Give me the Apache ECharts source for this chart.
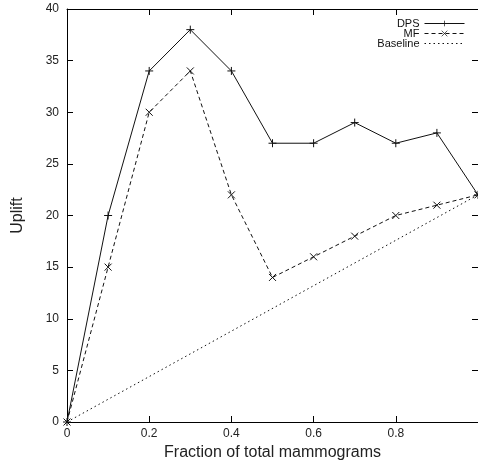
<!DOCTYPE html>
<html>
<head>
<meta charset="utf-8">
<script src="https://cdn.jsdelivr.net/npm/echarts@6/dist/echarts.min.js"></script>
<style>
  html, body { margin: 0; padding: 0; background: #fff; }
  #chart { width: 478px; height: 468px; }
</style>
</head>
<body>
<div id="chart"></div>
<script>
// data
var fractions = [0, 0.1, 0.2, 0.3, 0.4, 0.5, 0.6, 0.7, 0.8, 0.9, 1.0];
var dps = [0, 20, 34, 38, 34, 27, 27, 29, 27, 28, 22];
var mf = [0, 15, 30, 34, 22, 14, 16, 18, 20, 21, 22];
var baselineX = [0, 1.0];
var baselineY = [0, 22];

function pairs(xs, ys) {
  return xs.map(function (x, i) { return [x, ys[i]]; });
}

var plusPath = 'path://M0,5L10,5M5,0L5,10';
var crossPath = 'path://M0,0L10,10M10,0L0,10';
var font = 'Liberation Sans, Arial, Helvetica, sans-serif';
var tick = { show: true, inside: true, length: 6, lineStyle: { color: '#000', width: 1 } };
var line = { show: true, onZero: false, lineStyle: { color: '#000', width: 1 } };

var chart = echarts.init(document.getElementById('chart'));
chart.setOption({
  animation: false,
  backgroundColor: '#fff',
  grid: { left: 67, right: 0, top: 9, bottom: 46 },
  legend: {
    orient: 'vertical',
    right: 8,
    top: 13,
    align: 'right',
    itemWidth: 40,
    itemHeight: 7,
    itemGap: -1,
    textStyle: { fontFamily: font, fontSize: 11, color: '#111' },
    data: [
      { name: 'DPS', lineStyle: { width: 1 }, itemStyle: { borderWidth: 0.7 } },
      { name: 'MF', lineStyle: { width: 1 }, itemStyle: { borderWidth: 0.7 } },
      { name: 'Baseline', lineStyle: { width: 1 }, itemStyle: { opacity: 0 } }
    ]
  },
  xAxis: [{
    type: 'value',
    min: 0, max: 1, interval: 0.2,
    name: 'Fraction of total mammograms',
    nameLocation: 'middle',
    nameGap: 22,
    nameTextStyle: { fontFamily: font, fontSize: 16, color: '#222' },
    axisLine: line,
    axisTick: tick,
    axisLabel: {
      fontFamily: font, fontSize: 12, color: '#222', margin: 6,
      showMaxLabel: false,
      formatter: function (v) { return v === 1 ? '' : String(v); }
    },
    splitLine: { show: false }
  }, {
    type: 'value', position: 'top',
    min: 0, max: 1, interval: 0.2,
    axisLine: line,
    axisTick: tick,
    axisLabel: { show: false },
    splitLine: { show: false }
  }],
  yAxis: [{
    type: 'value',
    min: 0, max: 40, interval: 5,
    name: 'Uplift',
    nameLocation: 'middle',
    nameGap: 41,
    nameTextStyle: { fontFamily: font, fontSize: 16, color: '#222' },
    axisLine: line,
    axisTick: tick,
    axisLabel: { fontFamily: font, fontSize: 12, color: '#222', margin: 8 },
    splitLine: { show: false }
  }, {
    type: 'value', position: 'right',
    min: 0, max: 40, interval: 5,
    axisLine: line,
    axisTick: tick,
    axisLabel: { show: false },
    splitLine: { show: false }
  }],
  series: [{
    name: 'DPS',
    type: 'line',
    data: pairs(fractions, dps),
    symbol: plusPath,
    symbolSize: 8,
    showAllSymbol: true,
    lineStyle: { color: '#111', width: 1 },
    itemStyle: { color: '#111', borderColor: '#111', borderWidth: 1 }
  }, {
    name: 'MF',
    type: 'line',
    data: pairs(fractions, mf),
    symbol: crossPath,
    symbolSize: 7,
    showAllSymbol: true,
    lineStyle: { color: '#111', width: 1, type: [4, 3] },
    itemStyle: { color: '#111', borderColor: '#111', borderWidth: 1 }
  }, {
    name: 'Baseline',
    type: 'line',
    data: pairs(baselineX, baselineY),
    symbol: 'none',
    lineStyle: { color: '#111', width: 1, type: [1.5, 3] },
    itemStyle: { color: '#111' }
  }]
});
</script>
</body>
</html>
